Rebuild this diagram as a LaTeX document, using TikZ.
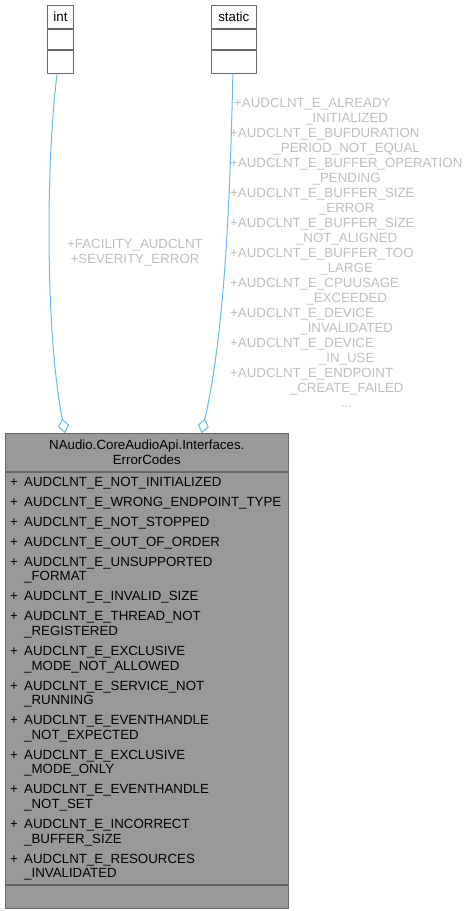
\documentclass[tikz,border=0pt]{standalone}
\usepackage{fontspec}
\setmainfont{Liberation Sans}
\usetikzlibrary{arrows.meta}
\definecolor{edgeblue}{HTML}{63B8FF}
\definecolor{labelgrey}{HTML}{BEBEBE}
\definecolor{boxline}{HTML}{666666}
\definecolor{boxfill}{HTML}{999999}
\newcommand{\mem}[1]{\makebox[14pt][l]{+}#1}
\newcommand{\cont}[1]{\hspace*{14pt}#1}
\newcommand{\firstline}[1]{\makebox[233pt][l]{#1}}

\begin{document}
\begin{tikzpicture}[x=1pt, y=-1pt, line join=round,
  every node/.style={font=\fontsize{13.3}{15}\selectfont},
  typebox/.style={draw=boxline, fill=white, line width=0.9pt, inner sep=0pt, anchor=north west},
  classbox/.style={draw=boxline, fill=boxfill, line width=0.9pt, inner sep=0pt, anchor=north west, minimum width=282.7pt},
  usage/.style={draw=edgeblue, line width=1pt, -{Diamond[open, length=15pt, width=11pt]}},
  usagelabel/.style={text=labelgrey, inner sep=0pt, align=center}]

  \useasboundingbox (0,0) rectangle (470,911);

  % ============ types used by the class ============
  \node[typebox, minimum width=26.6pt, minimum height=23pt] (inttitle) at (46.7,5) {int};
  \node[typebox, minimum width=26.6pt, minimum height=20pt] (intattrs) at (inttitle.south west) {};
  \node[typebox, minimum width=26.6pt, minimum height=22.7pt] (intops) at (intattrs.south west) {};

  \node[typebox, minimum width=45.3pt, minimum height=23pt] (statictitle) at (210.7,5) {static};
  \node[typebox, minimum width=45.3pt, minimum height=20pt] (staticattrs) at (statictitle.south west) {};
  \node[typebox, minimum width=45.3pt, minimum height=22.7pt] (staticops) at (staticattrs.south west) {};

  % ============ the class itself ============
  \node[classbox, minimum height=37.4pt, align=center] (title) at (5,433.3)
    {NAudio.CoreAudioApi.Interfaces.\\ErrorCodes};
  \node[classbox, minimum height=412pt] (attrs) at (title.south west) {};
  \node[classbox, minimum height=23pt] (ops) at (attrs.south west) {};

  \node[anchor=north west, inner sep=0pt, align=left, font=\fontsize{13.3}{14.6}\selectfont] (members) at (10,476.9) {
    \mem{AUDCLNT\_E\_NOT\_INITIALIZED}\\[5.4pt]
    \mem{AUDCLNT\_E\_WRONG\_ENDPOINT\_TYPE}\\[5.4pt]
    \mem{AUDCLNT\_E\_NOT\_STOPPED}\\[5.4pt]
    \mem{AUDCLNT\_E\_OUT\_OF\_ORDER}\\[5.4pt]
    \mem{AUDCLNT\_E\_UNSUPPORTED}\\\cont{\_FORMAT}\\[5.4pt]
    \mem{AUDCLNT\_E\_INVALID\_SIZE}\\[5.4pt]
    \mem{AUDCLNT\_E\_THREAD\_NOT}\\\cont{\_REGISTERED}\\[5.4pt]
    \mem{AUDCLNT\_E\_EXCLUSIVE}\\\cont{\_MODE\_NOT\_ALLOWED}\\[5.4pt]
    \mem{AUDCLNT\_E\_SERVICE\_NOT}\\\cont{\_RUNNING}\\[5.4pt]
    \mem{AUDCLNT\_E\_EVENTHANDLE}\\\cont{\_NOT\_EXPECTED}\\[5.4pt]
    \mem{AUDCLNT\_E\_EXCLUSIVE}\\\cont{\_MODE\_ONLY}\\[5.4pt]
    \mem{AUDCLNT\_E\_EVENTHANDLE}\\\cont{\_NOT\_SET}\\[5.4pt]
    \mem{AUDCLNT\_E\_INCORRECT}\\\cont{\_BUFFER\_SIZE}\\[5.4pt]
    \mem{AUDCLNT\_E\_RESOURCES}\\\cont{\_INVALIDATED}};

  % ============ usage edges ============
  \draw[usage] ([xshift=-3.3pt]intops.south) .. controls (46,160) and (45,330) .. ([xshift=60pt]title.north west);
  \draw[usage] ([xshift=-0.9pt]staticops.south) .. controls (230,200) and (225,330) .. ([xshift=196.7pt]title.north west);

  \node[usagelabel, anchor=north] (intlabel) at (135,239.5) {+FACILITY\_AUDCLNT\\+SEVERITY\_ERROR};
  \node[usagelabel, anchor=north] (staticlabel) at (346.7,97.9) {
    \firstline{\hspace*{4pt}+AUDCLNT\_E\_ALREADY}\\\_INITIALIZED\\
    \firstline{+AUDCLNT\_E\_BUFDURATION}\\\_PERIOD\_NOT\_EQUAL\\
    \firstline{+AUDCLNT\_E\_BUFFER\_OPERATION}\\\_PENDING\\
    \firstline{+AUDCLNT\_E\_BUFFER\_SIZE}\\\_ERROR\\
    \firstline{+AUDCLNT\_E\_BUFFER\_SIZE}\\\_NOT\_ALIGNED\\
    \firstline{+AUDCLNT\_E\_BUFFER\_TOO}\\\_LARGE\\
    \firstline{+AUDCLNT\_E\_CPUUSAGE}\\\_EXCEEDED\\
    \firstline{+AUDCLNT\_E\_DEVICE}\\\_INVALIDATED\\
    \firstline{+AUDCLNT\_E\_DEVICE}\\\_IN\_USE\\
    \firstline{+AUDCLNT\_E\_ENDPOINT}\\\_CREATE\_FAILED\\
    ...};

\end{tikzpicture}
\end{document}
